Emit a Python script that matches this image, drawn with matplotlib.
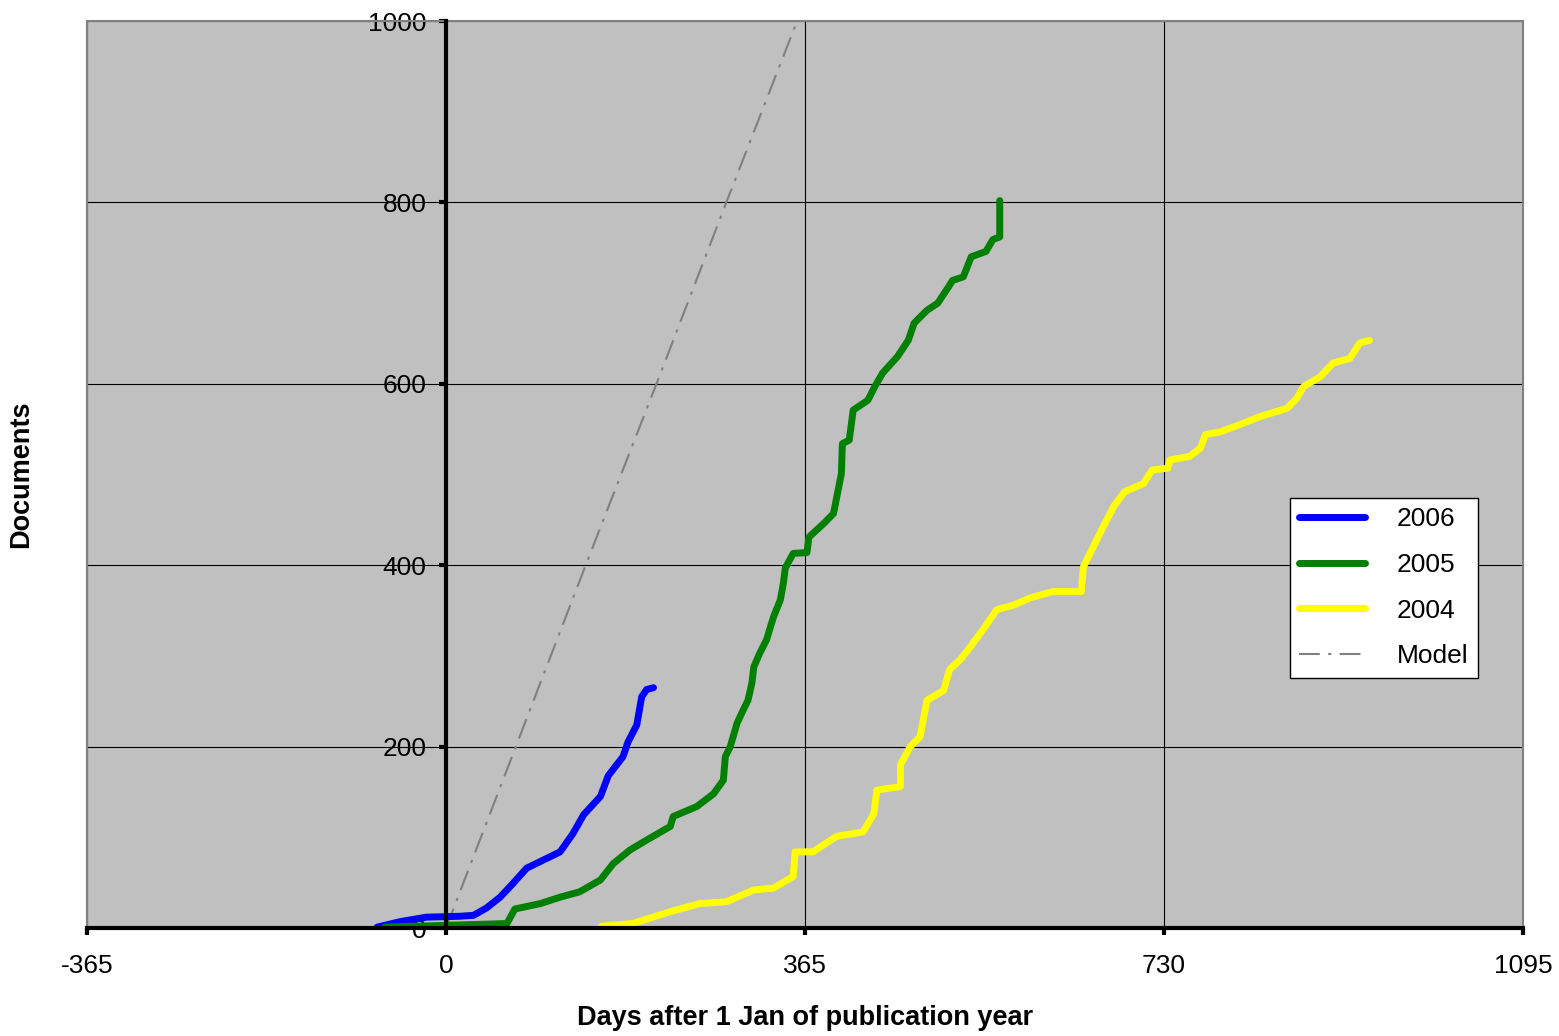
import matplotlib
matplotlib.use('Agg')
import matplotlib.pyplot as plt
from matplotlib.patches import Rectangle

plt.rcParams['font.family'] = ['Liberation Sans', 'DejaVu Sans']
plt.rcParams['axes.unicode_minus'] = False

# 2006
b_days = [-70, -47, -20, 14, 28, 41, 55, 68, 82, 99, 116, 129, 140, 157, 165, 180, 185, 194, 199, 204, 211]
b_docs = [1, 7, 12, 13, 14, 22, 34, 49, 66, 75, 84, 104, 125, 145, 168, 189, 205, 224, 255, 263, 265]
# 2005
g_days = [-62, 0, 62, 70, 96, 116, 136, 157, 170, 187, 204, 228, 231, 255, 272, 282, 284, 289, 296,
          302, 307, 311, 313, 319, 326, 329, 333, 340, 343, 345, 353, 367, 369, 384, 394, 398, 402,
          403, 410, 414, 429, 436, 444, 459, 470, 476, 489, 500, 511, 515, 526, 534, 549, 556, 563, 563]
g_docs = [1, 3, 5, 21, 27, 34, 40, 53, 71, 86, 97, 112, 123, 134, 148, 163, 189, 200, 226,
          240, 251, 270, 288, 303, 318, 329, 343, 362, 380, 397, 413, 414, 431, 446, 457, 479, 501,
          534, 538, 571, 582, 597, 612, 630, 648, 667, 681, 689, 707, 714, 718, 740, 746, 759, 762, 802]
# 2004
y_days = [158, 190, 228, 258, 285, 313, 333, 353, 355, 373, 397, 424, 435, 438, 462, 462, 472, 482,
          489, 506, 512, 523, 533, 546, 560, 577, 594, 617, 646, 648, 658, 668, 679, 690, 709, 718,
          734, 736, 756, 767, 772, 787, 807, 828, 855, 865, 872, 889, 902, 919, 929, 939]
y_docs = [2, 5, 18, 27, 29, 42, 44, 57, 84, 84, 101, 106, 126, 152, 156, 180, 200, 211,
          251, 262, 285, 296, 310, 329, 351, 356, 364, 371, 371, 398, 420, 442, 465, 481, 490, 505,
          507, 516, 520, 529, 544, 547, 555, 564, 573, 584, 597, 608, 623, 628, 645, 648]
# Model
m_days = [0, 71, 142, 214, 285, 357]
m_docs = [0, 200, 400, 600, 800, 1000]

x_ticks = [-365, 0, 365, 730, 1095]
y_ticks = [0, 200, 400, 600, 800, 1000]

fig = plt.figure(figsize=(15.59, 10.36), dpi=100)
ax = fig.add_axes([0.0558, 0.1042, 0.9211, 0.8755])
ax.set_facecolor('#C0C0C0')

lm, = ax.plot(m_days, m_docs, color='#808080', lw=1.5, dashes=(10, 4, 1.5, 4), label='Model', zorder=2)
style = dict(lw=5, solid_capstyle='round', solid_joinstyle='round', zorder=3)
l1, = ax.plot(b_days, b_docs, color='#0000FF', label='2006', **style)
l2, = ax.plot(g_days, g_docs, color='#008000', label='2005', **style)
l3, = ax.plot(y_days, y_docs, color='#FFFF00', label='2004', **style)

ax.set_xlim(-365, 1095)
ax.set_ylim(0, 1000)
ax.set_xticks(x_ticks)
ax.set_yticks(y_ticks)
ax.grid(True, color='black', lw=0.8)
ax.set_axisbelow(True)

# y axis crosses at x=0, thick black like Excel
ax.spines['left'].set_position(('data', 0))
ax.spines['left'].set_linewidth(3)
ax.spines['left'].set_color('black')
ax.spines['bottom'].set_linewidth(3)
ax.spines['bottom'].set_color('black')
ax.spines['top'].set_visible(False)
ax.spines['right'].set_visible(False)
ax.add_patch(Rectangle((0, 0), 1, 1, transform=ax.transAxes, fill=False,
                       edgecolor='#808080', lw=1.5, zorder=2.5, clip_on=False))
for s in ['left', 'bottom']:
    ax.spines[s].set_zorder(4)

ax.tick_params(axis='both', direction='out', length=5, width=3, labelsize=19, color='black')
ax.tick_params(axis='y', pad=9)
ax.tick_params(axis='x', pad=14)

ax.set_xlabel('Days after 1 Jan of publication year', fontsize=19.5, fontweight='bold')
ax.set_ylabel('Documents', fontsize=19.5, fontweight='bold')
ax.xaxis.set_label_coords(0.5, -0.085)
ax.yaxis.set_label_coords(-0.037, 0.5)

leg = ax.legend([l1, l2, l3, lm], ['2006', '2005', '2004', 'Model'], loc='upper left',
                bbox_to_anchor=(0.8377, 0.474), fontsize=19, fancybox=False, framealpha=1,
                edgecolor='black', borderaxespad=0, handlelength=2.5, handletextpad=1.2,
                labelspacing=0.82, borderpad=0.35)
leg.get_frame().set_linewidth(1)
leg.set_zorder(5)

fig.savefig('out.png', dpi=100)
